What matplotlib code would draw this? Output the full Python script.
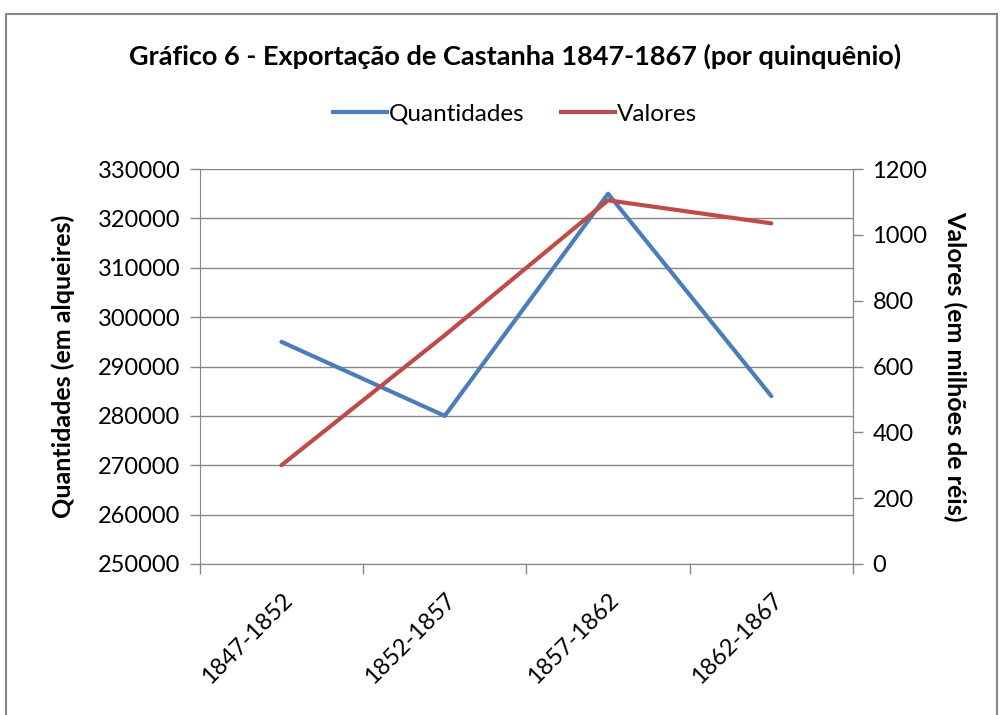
import matplotlib
matplotlib.use("Agg")
import matplotlib.pyplot as plt
from matplotlib.patches import Rectangle
from matplotlib.lines import Line2D

categories = ["1847-1852", "1852-1857", "1857-1862", "1862-1867"]
quantidades = [295000, 280000, 325000, 284000]
valores = [300, 695, 1105, 1035]

plt.rcParams['font.family'] = ['Lato', 'DejaVu Sans']

blue = "#4A7EBB"
red = "#BE4B48"
grid = "#868686"

fig = plt.figure(figsize=(10.04, 7.15), dpi=100)
fig.patches.append(Rectangle((0.006, -0.02), 0.987, 1.0, transform=fig.transFigure,
                             fill=False, edgecolor="#888888", linewidth=1.5))

ax = fig.add_axes([0.199, 0.2112, 0.6506, 0.5524])
x = list(range(len(categories)))
ax.plot(x, quantidades, color=blue, lw=3, solid_capstyle="round", zorder=3)
ax.set_xlim(-0.5, 3.5)
ax.set_ylim(250000, 330000)
ax.set_yticks(range(250000, 330001, 10000))
ax.set_xticks([i - 0.5 for i in range(5)])
ax.set_xticklabels([])
ax.set_xticks(x, minor=True)
ax.set_xticklabels(categories, minor=True, rotation=45, ha="right", rotation_mode="anchor", fontsize=17)
ax.tick_params(axis="x", which="minor", length=0, pad=18)
ax.tick_params(axis="x", which="major", length=7, color=grid, width=1)
ax.tick_params(axis="y", length=7, color=grid, width=1, labelsize=17, pad=7)
ax.grid(axis="y", color=grid, lw=1)
ax.spines["top"].set_visible(False)
for s in ["left", "bottom", "right"]:
    ax.spines[s].set_color(grid)
ax.set_ylabel("Quantidades (em alqueires)", fontsize=18, fontweight="bold", labelpad=16)

ax2 = ax.twinx()
ax2.plot(x, valores, color=red, lw=3, solid_capstyle="round", zorder=3)
ax2.set_ylim(0, 1200)
ax2.set_yticks(range(0, 1201, 200))
ax2.tick_params(axis="y", length=7, color=grid, width=1, labelsize=17, pad=7)
for s in ["top", "left", "bottom"]:
    ax2.spines[s].set_visible(False)
ax2.spines["right"].set_color(grid)
ax2.set_ylabel("Valores (em milhões de réis)", fontsize=18, fontweight="bold", rotation=-90, labelpad=28)

fig.text(0.513, 0.921, "Gráfico 6 - Exportação de Castanha 1847-1867 (por quinquênio)",
         ha="center", va="center", fontsize=19.5, fontweight="bold")

handles = [Line2D([], [], color=blue, lw=3), Line2D([], [], color=red, lw=3)]
fig.legend(handles, ["Quantidades", "Valores"], loc="center", bbox_to_anchor=(0.513, 0.840),
           ncol=2, frameon=False, fontsize=17.5, handlelength=2.2, handletextpad=0.1, columnspacing=1.5)

fig.savefig("out.png", dpi=100)
